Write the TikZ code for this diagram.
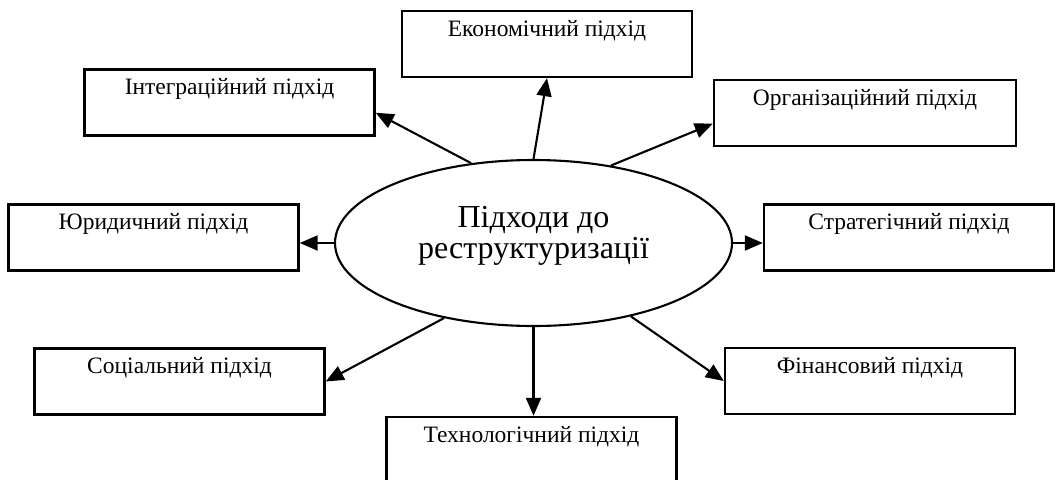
\documentclass[tikz,border=0pt]{standalone}
\usepackage{fontspec}
\setmainfont{Liberation Serif}
\usetikzlibrary{shapes.geometric, arrows.meta}

\newcommand{\pidfont}{\fontsize{23.5}{27}\selectfont}
\newcommand{\hubfont}{\fontsize{32}{31}\selectfont}

\begin{document}
\begin{tikzpicture}[x=1pt, y=-1pt,
    pidbox/.style={draw, line width=2.4pt, minimum width=290pt, inner xsep=0pt,
        inner ysep=0pt, text height=25pt, text depth=41pt, font=\pidfont},
    hub/.style={draw, ellipse, line width=2.1pt, minimum width=397pt,
        minimum height=166pt, inner sep=0pt},
    strila/.style={line width=2.1pt, -{Triangle[length=18pt, width=15pt]}}]

    % Межі рисунка
    \useasboundingbox (0,0) rectangle (1056,479);

    % Центральний еліпс
    \node[hub] (ctr) at (533.5,243) {};
    \node[font=\hubfont, align=center] (ctrtext) at (533.5,236) {Підходи до\\реструктуризації};

    % Блоки підходів
    \node[pidbox] (ekon) at (547,44) {Економічний підхід};
    \node[pidbox] (integr) at (229.5,102.5) {Інтеграційний підхід};
    \node[pidbox, minimum width=302pt] (org) at (865,113) {Організаційний підхід};
    \node[pidbox] (yur) at (153.5,237.5) {Юридичний підхід};
    \node[pidbox] (strat) at (909,237.5) {Стратегічний підхід};
    \node[pidbox] (soc) at (179.5,381.5) {Соціальний підхід};
    \node[pidbox] (fin) at (870,381) {Фінансовий підхід};
    \node[pidbox] (tekh) at (531.5,450) {Технологічний підхід};

    % Стрілки від еліпса
    \draw[strila] (ctr.north) -- (ekon.south);
    \draw[strila] (ctr.128) -- (integr.-4);
    \draw[strila] (ctr.45) -- (org.184);
    \draw[strila] (ctr.west) -- (ctr.west -| yur.east);
    \draw[strila] (ctr.east) -- (ctr.east -| strat.west);
    \draw[strila] (ctr.220) -- (soc.east);
    \draw[strila] (ctr.south) -- (ctr.south |- tekh.north);
    \draw[strila] (ctr.-37) -- (fin.west);
\end{tikzpicture}
\end{document}
